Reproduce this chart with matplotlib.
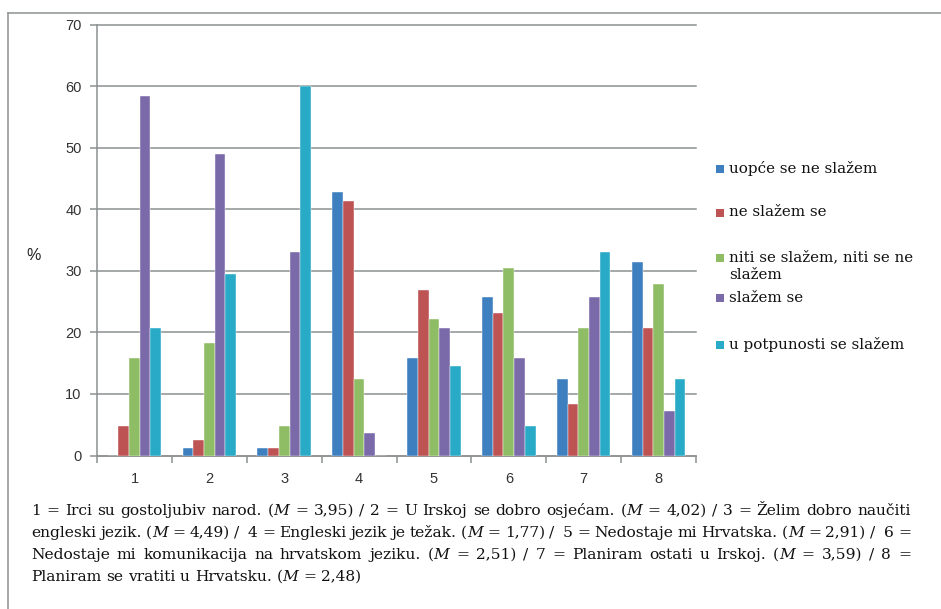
import matplotlib
matplotlib.use('Agg')
import matplotlib.pyplot as plt
import numpy as np
from matplotlib.lines import Line2D
from matplotlib.patches import Rectangle

# ---------------- data ----------------
categories = ['1', '2', '3', '4', '5', '6', '7', '8']
series_names = ['uopće se ne slažem', 'ne slažem se',
                'niti se slažem, niti se ne\nslažem', 'slažem se',
                'u potpunosti se slažem']
s_uopce = [0.0, 1.2, 1.2, 42.8, 15.9, 25.7, 12.4, 31.5]
s_ne = [4.8, 2.5, 1.2, 41.4, 26.8, 23.2, 8.4, 20.7]
s_niti = [15.9, 18.2, 4.8, 12.4, 22.1, 30.5, 20.7, 27.9]
s_slazem = [58.4, 48.9, 33.0, 3.7, 20.7, 15.9, 25.7, 7.3]
s_potpuno = [20.7, 29.4, 60.0, 0.0, 14.6, 4.8, 33.0, 12.4]
y_ticks = [0, 10, 20, 30, 40, 50, 60, 70]
y_label = '%'
caption_lines = [
    "1 = Irci su gostoljubiv narod. (*M* = 3,95) / 2 = U Irskoj se dobro osjećam. (*M* = 4,02) / 3 = Želim dobro naučiti",
    "engleski jezik. (*M* = 4,49) /  4 = Engleski jezik je težak. (*M* = 1,77) /  5 = Nedostaje mi Hrvatska. (*M* = 2,91) /  6 =",
    "Nedostaje mi komunikacija na hrvatskom jeziku. (*M* = 2,51) / 7 = Planiram ostati u Irskoj. (*M* = 3,59) / 8 =",
    "Planiram se vratiti u Hrvatsku. (*M* = 2,48)",
]

series = [s_uopce, s_ne, s_niti, s_slazem, s_potpuno]
colors = ['#3E80BF', '#BE5353', '#8FBD66', '#7B6AA9', '#29AAC7']
grid_col = '#8C9192'

W, H = 941, 609
fig = plt.figure(figsize=(W / 100, H / 100), dpi=100)
fig.patch.set_facecolor('white')

def fx(px):
    return px / W

def fy(py):
    return 1 - py / H

# outer frame (top and left visible)
fig.add_artist(Line2D([fx(8), fx(8)], [0, fy(12.5)], color=grid_col, lw=1.1))
fig.add_artist(Line2D([fx(8), 1.0], [fy(12.5), fy(12.5)], color=grid_col, lw=1.1))

ax = fig.add_axes([fx(97), fy(455.5), fx(696) - fx(97), fy(24.5) - fy(455.5)])
ax.set_facecolor('white')

n = len(categories)
x = np.arange(n) + 0.5
bw = 1 / 7
for k, (vals, col) in enumerate(zip(series, colors)):
    ax.bar(x + (k - 2) * bw, vals, width=bw, color=col, edgecolor='white',
           linewidth=0.3, zorder=3)

ax.set_xlim(0, n)
ax.set_ylim(y_ticks[0], y_ticks[-1])
ax.set_yticks(y_ticks)
ax.set_yticklabels([str(t) for t in y_ticks], family='Liberation Sans',
                   fontsize=10.5, color='#333333')
ax.yaxis.grid(True, color=grid_col, lw=1.1, zorder=0)
for gl in ax.yaxis.get_gridlines():
    gl.set_clip_on(False)
ax.set_axisbelow(True)

ax.set_xticks(np.arange(n + 1))
ax.set_xticklabels([])
ax.set_xticks(x, minor=True)
ax.set_xticklabels(categories, minor=True, family='Liberation Sans',
                   fontsize=10.5, color='#333333')
ax.tick_params(axis='x', which='major', direction='out', length=5,
               color=grid_col, width=1.1)
ax.tick_params(axis='x', which='minor', length=0, pad=12)
ax.tick_params(axis='y', direction='out', length=5, color=grid_col,
               width=1.1, pad=6)

for s in ['top', 'right']:
    ax.spines[s].set_visible(False)
for s in ['left', 'bottom']:
    ax.spines[s].set_color(grid_col)
    ax.spines[s].set_linewidth(1.1)

fig.text(fx(34), fy(255), y_label, family='Liberation Sans', fontsize=11.5,
         color='#222222', ha='center', va='center')

# ---------------- caption (justified) ----------------
cap_family = 'DejaVu Serif'
renderer = fig.canvas.get_renderer()

def seg_width(s, fs, style='normal'):
    t = fig.text(0, 0, s, fontsize=fs, family=cap_family, style=style)
    w = t.get_window_extent(renderer).width
    t.remove()
    return w

def parse_word(word):
    parts = word.split('*')
    segs = []
    for i, p in enumerate(parts):
        if p:
            segs.append((p, 'italic' if i % 2 == 1 else 'normal'))
    return segs

def line_natural(line, fs):
    words = line.split(' ')
    sp = seg_width('a a', fs) - seg_width('aa', fs)
    tot = sum(seg_width(s, fs, st) for w in words for s, st in parse_word(w))
    return tot + sp * (len(words) - 1)

x_left, x_right = 31, 911
cap_fs = 10 * 868 / line_natural(caption_lines[0], 10)
cap_color = '#111111'
baselines = [515, 537, 559, 581]

for li, line in enumerate(caption_lines):
    words = line.split(' ')
    wsegs = [parse_word(w) for w in words]
    widths = [[seg_width(s, cap_fs, st) for s, st in segs] for segs in wsegs]
    total = sum(sum(ws) for ws in widths)
    if li < len(caption_lines) - 1:
        gap = (x_right - x_left - total) / (len(words) - 1)
    else:
        gap = seg_width('a a', cap_fs) - seg_width('aa', cap_fs)
    cx = x_left
    for segs, ws in zip(wsegs, widths):
        for (s, st), w in zip(segs, ws):
            fig.text(fx(cx), fy(baselines[li]), s, fontsize=cap_fs,
                     family=cap_family, style=st, color=cap_color,
                     ha='left', va='baseline')
            cx += w
        cx += gap

# ---------------- legend ----------------
legend_y = [169, 213, 258, 298, 345]
for name, col, ly in zip(series_names, colors, legend_y):
    fig.add_artist(Rectangle((fx(716), fy(ly + 4)), fx(8), 8 / H,
                             facecolor=col, edgecolor='none'))
    fig.text(fx(729), fy(ly - 7.5), name, fontsize=cap_fs * 0.98,
             family=cap_family, color=cap_color, ha='left', va='top',
             linespacing=1.35)

fig.savefig('out.png', dpi=100, facecolor='white')
